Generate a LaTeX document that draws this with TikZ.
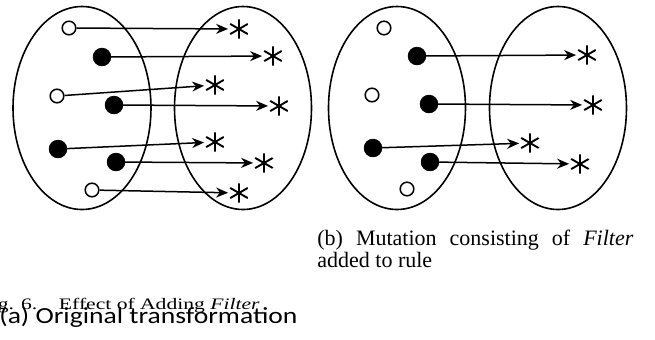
\documentclass[tikz,border=0pt]{standalone}
\usepackage{fontspec}
\setmainfont{Liberation Serif}
\newfontfamily\calfont{Carlito}
\usepackage{graphicx}
\usetikzlibrary{arrows.meta, shapes.geometric, positioning}

\begin{document}
\begin{tikzpicture}[x=0.5pt, y=-0.5pt, >={Stealth[length=6pt,width=5pt]},
  set style/.style={
    draw,
    line width=0.8pt,
    ellipse,
    inner sep=0pt,
    minimum width=#1,
    minimum height=101.5pt,
  },
  full style/.style={
    circle,
    draw,
    fill=black,
    inner sep=0pt,
    minimum size=8.8pt,
  },
  empty style/.style={
    circle,
    draw,
    line width=0.75pt,
    fill=white,
    inner sep=0pt,
    minimum size=6.8pt,
  },
  star style/.style={
    circle,
    inner sep=0pt,
    minimum size=10.5pt,
    path picture={\draw[line width=0.95pt] (path picture bounding box.center)
      +(0,4.8pt) -- +(0,-4.8pt) +(30:5.1pt) -- +(210:5.1pt) +(150:5.1pt) -- +(-30:5.1pt);}
  },
  map style/.style={->, line width=0.75pt}
]
\useasboundingbox (0,0) rectangle (655,339);

% (a) original transformation
\node[set style=69pt] (domA) at (82,108) {};
\node[set style=68.5pt] (codA) at (243,108) {};

\node[star style] (TA1) at (239,29) {};
\node[star style] (TA2) at (273,56) {};
\node[star style] (TA3) at (215,85) {};
\node[star style] (TA4) at (279,106) {};
\node[star style] (TA5) at (215,142) {};
\node[star style] (TA6) at (264,163) {};
\node[star style] (TA7) at (239,193) {};

\node[empty style] (A1) at (69,28) {} edge [map style] (TA1);
\node[full style] (A2) at (102,57) {} edge [map style] (TA2);
\node[empty style] (A3) at (57,96) {} edge [map style] (TA3);
\node[full style] (A4) at (114,105) {} edge [map style] (TA4);
\node[full style] (A5) at (58,149) {} edge [map style] (TA5);
\node[full style] (A6) at (116,162) {} edge [map style] (TA6);
\node[empty style] (A7) at (92,190) {} edge [map style] (TA7);

% (b) mutation with Filter
\node[set style=68.5pt] (domB) at (397,108) {};
\node[set style=68.5pt] (codB) at (558,108) {};

\node[star style] (TB2) at (587,55) {};
\node[star style] (TB4) at (593,105) {};
\node[star style] (TB5) at (530,143) {};
\node[star style] (TB6) at (580,164) {};

\node[empty style] (B1) at (384,28) {};
\node[full style] (B2) at (417,56) {} edge [map style] (TB2);
\node[empty style] (B3) at (372,95) {};
\node[full style] (B4) at (429,104) {} edge [map style] (TB4);
\node[full style] (B5) at (373,148) {} edge [map style] (TB5);
\node[full style] (B6) at (430,162) {} edge [map style] (TB6);
\node[empty style] (B7) at (407,189) {};

% captions
\node[anchor=base west, inner sep=0pt, text width=158pt, align=justify,
  font=\fontsize{11}{10}\selectfont] (capB) at (317,245)
  {(b) Mutation consisting of \textit{Filter} added to rule};
\node[anchor=base east, inner sep=0pt] (figcap) at (260,309)
  {\scalebox{1.35}[1]{\fontsize{8}{9}\selectfont Fig. 6.\quad Effect of Adding \textit{Filter}}};
\node[anchor=base west, inner sep=0pt] (capA) at (-1,323)
  {\scalebox{1.2}[1]{\calfont\fontsize{11.5}{12}\selectfont (a) Original transformation}};

\end{tikzpicture}
\end{document}
